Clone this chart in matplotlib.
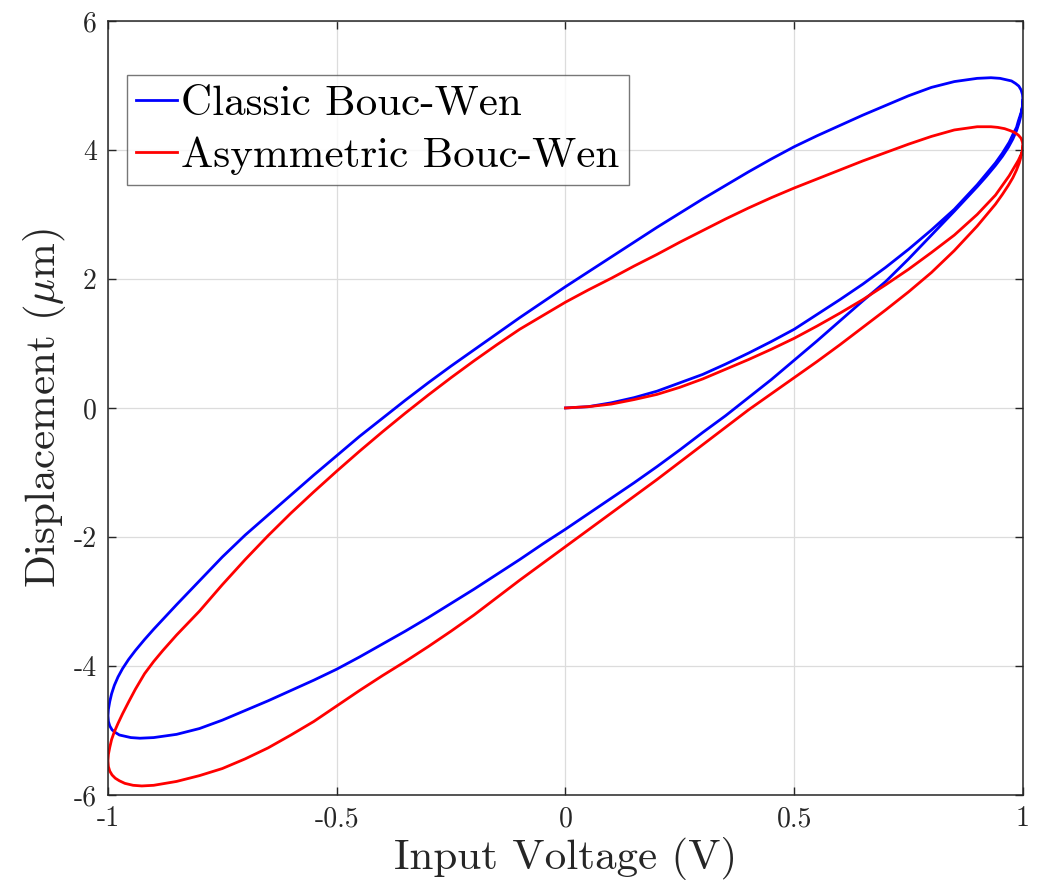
import matplotlib
matplotlib.use('Agg')

import numpy as np
import matplotlib.pyplot as plt

plt.rcParams['font.family'] = 'serif'
plt.rcParams['font.serif'] = ['cmr10']
plt.rcParams['mathtext.fontset'] = 'cm'
plt.rcParams['axes.unicode_minus'] = False
plt.rcParams['axes.formatter.use_mathtext'] = False

# Classic Bouc-Wen: virgin curve, descending branch, ascending branch
classic_init_v = [0.00, 0.05, 0.10, 0.15, 0.20, 0.25, 0.30, 0.35, 0.40, 0.45, 0.50, 0.55,
                  0.60, 0.65, 0.70, 0.75, 0.80, 0.85, 0.90, 0.94, 0.955, 0.97, 0.978,
                  0.986, 0.99, 0.996, 0.999, 1.00]
classic_init_d = [0.00, 0.02, 0.08, 0.16, 0.26, 0.39, 0.52, 0.68, 0.85, 1.03, 1.22, 1.45,
                  1.68, 1.92, 2.18, 2.46, 2.76, 3.08, 3.46, 3.80, 3.95, 4.12, 4.24,
                  4.35, 4.45, 4.58, 4.68, 4.77]
classic_down_v = [0.999, 0.996, 0.991, 0.984, 0.975, 0.963, 0.950, 0.930, 0.900, 0.85, 0.80,
                  0.75, 0.70, 0.65, 0.60, 0.55, 0.50, 0.45, 0.40, 0.35, 0.30, 0.25, 0.20,
                  0.15, 0.10, 0.05, 0.00, -0.05, -0.10, -0.15, -0.20, -0.25, -0.30, -0.35,
                  -0.40, -0.45, -0.50, -0.55, -0.60, -0.65, -0.70, -0.75, -0.80, -0.85,
                  -0.90, -0.92, -0.94, -0.955, -0.968, -0.978, -0.986, -0.992, -0.996,
                  -0.999, -1.000]
classic_down_d = [4.86, 4.93, 4.99, 5.03, 5.07, 5.09, 5.11, 5.12, 5.11, 5.06, 4.97,
                  4.84, 4.69, 4.54, 4.38, 4.22, 4.05, 3.86, 3.66, 3.45, 3.24, 3.02, 2.80,
                  2.57, 2.34, 2.11, 1.88, 1.64, 1.40, 1.15, 0.90, 0.65, 0.39, 0.12,
                  -0.16, -0.44, -0.74, -1.04, -1.35, -1.66, -1.97, -2.31, -2.68, -3.05,
                  -3.43, -3.59, -3.76, -3.90, -4.04, -4.17, -4.30, -4.43, -4.55,
                  -4.67, -4.77]
classic_up_v = [-0.999, -0.996, -0.991, -0.984, -0.975, -0.963, -0.950, -0.930, -0.900,
                -0.85, -0.80, -0.75, -0.70, -0.65, -0.60, -0.55, -0.50, -0.45, -0.40, -0.35,
                -0.30, -0.25, -0.20, -0.15, -0.10, -0.05, 0.00, 0.05, 0.10, 0.15, 0.20,
                0.25, 0.30, 0.35, 0.40, 0.45, 0.50, 0.55, 0.60, 0.65, 0.70, 0.75, 0.80,
                0.85, 0.90, 0.92, 0.94, 0.955, 0.968, 0.978, 0.986, 0.992, 0.996, 0.999,
                1.000]
classic_up_d = [-4.86, -4.93, -4.99, -5.03, -5.07, -5.09, -5.11, -5.12, -5.11,
                -5.06, -4.97, -4.84, -4.69, -4.54, -4.38, -4.22, -4.05, -3.86, -3.66, -3.46,
                -3.25, -3.03, -2.81, -2.58, -2.35, -2.11, -1.88, -1.64, -1.40, -1.16, -0.91,
                -0.65, -0.38, -0.12, 0.16, 0.44, 0.74, 1.04, 1.35, 1.66, 1.96, 2.31, 2.68,
                3.05, 3.43, 3.59, 3.76, 3.90, 4.04, 4.17, 4.30, 4.43, 4.55, 4.67,
                4.77]

# Asymmetric Bouc-Wen
asym_init_v = [0.00, 0.05, 0.10, 0.15, 0.20, 0.25, 0.30, 0.35, 0.40, 0.45, 0.50, 0.55,
               0.60, 0.65, 0.70, 0.75, 0.80, 0.85, 0.90, 0.94, 0.955, 0.97, 0.98, 0.99,
               0.996, 0.999, 1.00]
asym_init_d = [0.00, 0.02, 0.06, 0.13, 0.21, 0.32, 0.45, 0.60, 0.75, 0.91, 1.08, 1.27,
               1.47, 1.68, 1.91, 2.15, 2.41, 2.68, 3.00, 3.30, 3.45, 3.60, 3.72, 3.84,
               3.93, 3.99, 4.05]
asym_down_v = [0.999, 0.996, 0.990, 0.982, 0.972, 0.960, 0.945, 0.930, 0.900, 0.85, 0.80,
               0.75, 0.70, 0.65, 0.60, 0.55, 0.50, 0.45, 0.40, 0.35, 0.30, 0.25, 0.20,
               0.15, 0.10, 0.05, 0.00, -0.05, -0.10, -0.15, -0.20, -0.25, -0.30, -0.35,
               -0.40, -0.45, -0.50, -0.55, -0.60, -0.65, -0.70, -0.75, -0.80, -0.85,
               -0.88, -0.90, -0.92, -0.94, -0.955, -0.968, -0.978, -0.986, -0.992, -0.996,
               -0.999, -1.000]
asym_down_d = [4.12, 4.18, 4.23, 4.27, 4.30, 4.33, 4.35, 4.36, 4.36, 4.31, 4.21,
               4.09, 3.96, 3.83, 3.69, 3.55, 3.41, 3.26, 3.10, 2.93, 2.75, 2.57, 2.38,
               2.20, 2.01, 1.83, 1.64, 1.43, 1.22, 0.98, 0.73, 0.47, 0.20, -0.08,
               -0.37, -0.67, -0.98, -1.30, -1.63, -1.98, -2.35, -2.74, -3.15, -3.52,
               -3.76, -3.93, -4.12, -4.36, -4.56, -4.74, -4.89, -5.02, -5.14, -5.26,
               -5.37, -5.47]
asym_up_v = [-0.999, -0.996, -0.991, -0.984, -0.975, -0.963, -0.945, -0.926, -0.900,
             -0.85, -0.80, -0.75, -0.70, -0.65, -0.60, -0.55, -0.50, -0.45, -0.40, -0.35,
             -0.30, -0.25, -0.20, -0.15, -0.10, -0.05, 0.00, 0.05, 0.10, 0.15, 0.20,
             0.25, 0.30, 0.35, 0.40, 0.45, 0.50, 0.55, 0.60, 0.65, 0.70, 0.75, 0.80,
             0.85, 0.90, 0.94, 0.955, 0.968, 0.978, 0.986, 0.992, 0.996, 0.999, 1.00]
asym_up_d = [-5.56, -5.63, -5.69, -5.74, -5.78, -5.82, -5.85, -5.86, -5.85,
             -5.79, -5.70, -5.59, -5.44, -5.27, -5.07, -4.86, -4.62, -4.38, -4.15, -3.93,
             -3.70, -3.46, -3.21, -2.94, -2.67, -2.41, -2.15, -1.89, -1.63, -1.37, -1.11,
             -0.84, -0.57, -0.30, -0.03, 0.22, 0.47, 0.72, 0.98, 1.25, 1.52, 1.80, 2.10,
             2.44, 2.82, 3.16, 3.31, 3.45, 3.57, 3.69, 3.80, 3.90, 3.98, 4.05]

classic_v = np.concatenate([classic_init_v, classic_down_v, classic_up_v])
classic_d = np.concatenate([classic_init_d, classic_down_d, classic_up_d])
asym_v = np.concatenate([asym_init_v, asym_down_v, asym_up_v])
asym_d = np.concatenate([asym_init_d, asym_down_d, asym_up_d])

fig = plt.figure(figsize=(10.4, 8.84), dpi=100)
ax = fig.add_axes([0.1038, 0.1007, 0.8798, 0.8756])

ax.plot(classic_v, classic_d, color='#0000ff', linewidth=2.0, label='Classic Bouc-Wen')
ax.plot(asym_v, asym_d, color='#ff0000', linewidth=2.0, label='Asymmetric Bouc-Wen')

ax.set_xlim(-1, 1)
ax.set_ylim(-6, 6)
ax.set_xticks([-1, -0.5, 0, 0.5, 1])
ax.set_xticklabels(['-1', '-0.5', '0', '0.5', '1'])
ax.set_yticks([-6, -4, -2, 0, 2, 4, 6])
ax.set_yticklabels(['-6', '-4', '-2', '0', '2', '4', '6'])

ax.grid(True, color='#dcdcdc', linewidth=0.9)
ax.set_axisbelow(True)
for s in ax.spines.values():
    s.set_color('#262626')
    s.set_linewidth(1.1)
ax.tick_params(direction='in', length=6, width=1.0, color='#262626',
               top=True, right=True, labelsize=20, labelcolor='#262626', pad=8)

ax.set_xlabel('Input Voltage (V)', fontsize=31, color='#262626', labelpad=3)
ax.set_ylabel(r'Displacement ($\mu$m)', fontsize=31, color='#262626', labelpad=4)

leg = ax.legend(loc='upper left', bbox_to_anchor=(0.0208, 0.930), fontsize=31,
                frameon=True, fancybox=False, borderaxespad=0, borderpad=0.22,
                handlelength=0.95, handletextpad=0.08, labelspacing=0.33)
leg.get_frame().set_edgecolor('#555555')
leg.get_frame().set_linewidth(1.0)

fig.savefig('out.png', dpi=100)
